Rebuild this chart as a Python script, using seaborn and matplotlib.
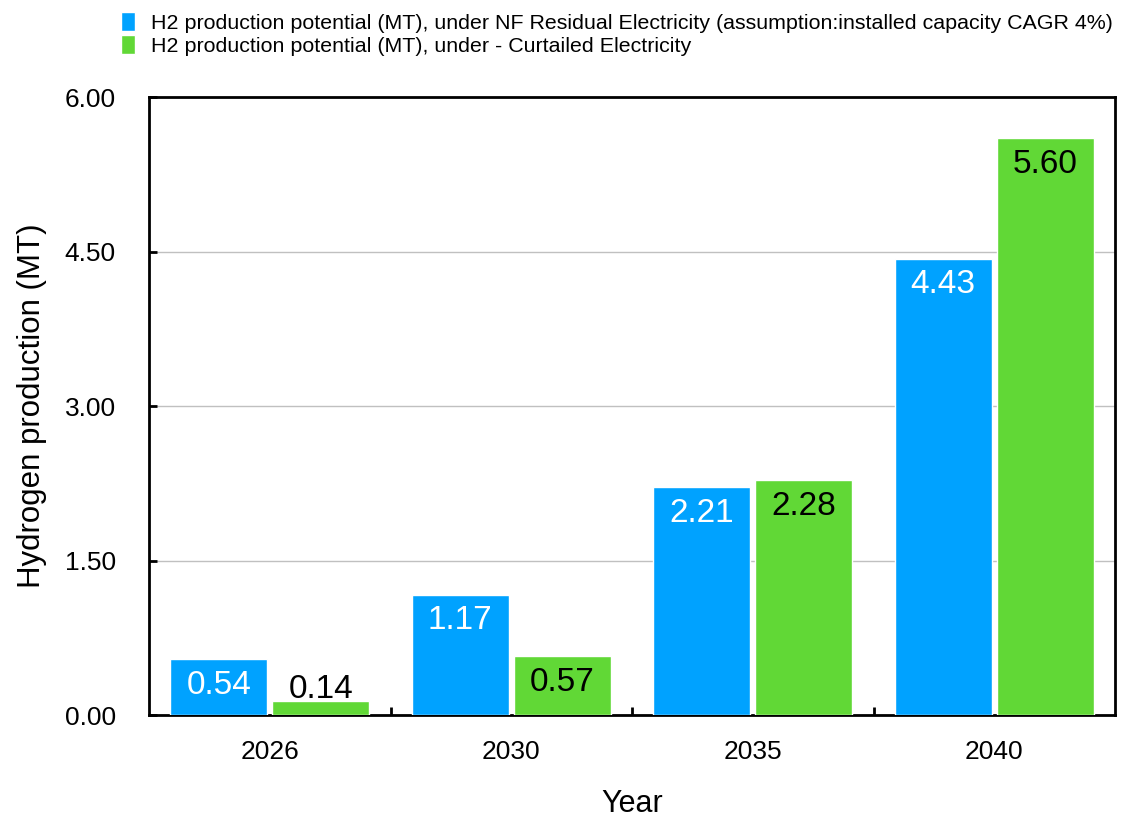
import matplotlib
matplotlib.use("Agg")
import matplotlib.pyplot as plt
import seaborn as sns
import pandas as pd
from matplotlib.ticker import FixedLocator, MultipleLocator, FormatStrFormatter

years = ["2026", "2030", "2035", "2040"]
residual = [0.54, 1.17, 2.21, 4.43]
curtailed = [0.14, 0.57, 2.28, 5.60]
series_names = [
    "H2 production potential (MT), under NF Residual Electricity (assumption:installed capacity CAGR 4%)",
    "H2 production potential (MT), under - Curtailed Electricity",
]
colors = ["#00A2FF", "#61D836"]
label_colors = ["white", "black"]

df = pd.DataFrame({
    "Year": years * 2,
    "value": residual + curtailed,
    "series": [series_names[0]] * len(years) + [series_names[1]] * len(years),
})

sns.set_style("white")
plt.rcParams["font.family"] = ["Liberation Sans", "DejaVu Sans"]
plt.rcParams["text.color"] = "black"
plt.rcParams["axes.labelcolor"] = "black"
plt.rcParams["xtick.color"] = "black"
plt.rcParams["ytick.color"] = "black"

fig = plt.figure(figsize=(11.24, 8.18), dpi=100)
ax = fig.add_axes([0.1326, 0.1259, 0.8594, 0.7555])

sns.barplot(data=df, x="Year", y="value", hue="series", order=years,
            hue_order=series_names, palette=colors, width=0.845, gap=0.05,
            saturation=1, ax=ax, legend=True, zorder=3)

ax.set_ylim(0, 6)
ax.set_xlim(-0.5, 3.5)
ax.yaxis.set_major_locator(MultipleLocator(1.5))
ax.yaxis.set_major_formatter(FormatStrFormatter("%.2f"))
ax.grid(axis="y", color="#C0C0C0", linewidth=1, zorder=0)
ax.set_axisbelow(True)

for s in ax.spines.values():
    s.set_color("black")
    s.set_linewidth(2)
    s.set_visible(True)

ax.tick_params(axis="y", left=True, direction="in", length=6, width=2,
               labelsize=19, pad=24, colors="black")
ax.tick_params(axis="x", which="major", bottom=True, length=0, labelsize=19, pad=18,
               colors="black")
ax.xaxis.set_minor_locator(FixedLocator([0.5, 1.5, 2.5]))
ax.tick_params(axis="x", which="minor", bottom=True, direction="in", length=6, width=2,
               colors="black")

ax.set_xlabel("Year", fontsize=22, labelpad=18)
ax.set_ylabel("Hydrogen production (MT)", fontsize=22.5, labelpad=13)

# value labels: inside the top of each bar, above it when the bar is too short
for container, lc in zip(ax.containers, label_colors):
    for bar in container:
        h = bar.get_height()
        x = bar.get_x() + bar.get_width() / 2
        if h < 0.3:
            ax.annotate(f"{h:.2f}", (x, h), xytext=(0, 11), textcoords="offset pixels",
                        ha="center", va="center", fontsize=24, color="black", zorder=5)
        else:
            ax.annotate(f"{h:.2f}", (x, h), xytext=(0, -26), textcoords="offset pixels",
                        ha="center", va="center", fontsize=24, color=lc, zorder=5)

leg = ax.legend(loc="upper left", bbox_to_anchor=(-0.038, 1.151), frameon=False,
                fontsize=15.4, handlelength=0.65, handleheight=0.95, handletextpad=0.75,
                labelspacing=0.12, borderaxespad=0)

fig.savefig("out.png", dpi=100)
